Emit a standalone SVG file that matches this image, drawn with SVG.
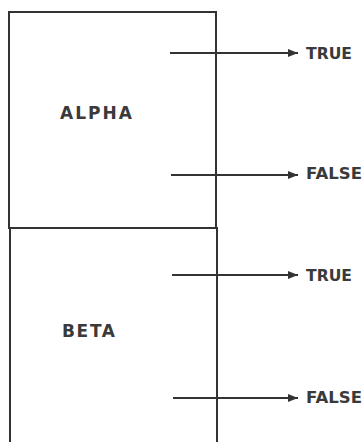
<svg xmlns="http://www.w3.org/2000/svg" width="363" height="442" viewBox="0 0 363 442">
<style>
.box{fill:none;stroke:#333;stroke-width:2}
.edge{stroke:#333;stroke-width:2;fill:none}
text{font-family:"DejaVu Sans","Liberation Sans",Arial,sans-serif;font-weight:bold;fill:#3a3a3a}
.name{font-size:17px}
.out{font-size:15px}
</style>
<defs>
<marker id="ah" viewBox="0 0 10 8" refX="10" refY="4" markerWidth="10" markerHeight="8" markerUnits="userSpaceOnUse" orient="auto">
<path d="M0,0 L10,4 L0,8 Z" fill="#333"/>
</marker>
</defs>
<rect width="363" height="442" fill="#fff"/>
<g id="alpha">
<rect class="box" x="9" y="12" width="207" height="216"/>
<text class="name" x="60" y="119" textLength="72" lengthAdjust="spacing">ALPHA</text>
</g>
<g id="beta">
<path class="box" d="M10,228 V442 M10,228 H217 V442"/>
<text class="name" x="62" y="337" textLength="53" lengthAdjust="spacing">BETA</text>
</g>
<g id="connectors">
<line class="edge" x1="170" y1="53" x2="298" y2="53" marker-end="url(#ah)"/>
<line class="edge" x1="171" y1="175" x2="298" y2="175" marker-end="url(#ah)"/>
<line class="edge" x1="172" y1="275" x2="298" y2="275" marker-end="url(#ah)"/>
<line class="edge" x1="173" y1="398" x2="298" y2="398" marker-end="url(#ah)"/>
</g>
<g id="labels">
<text class="out" x="306" y="59" textLength="46" lengthAdjust="spacingAndGlyphs">TRUE</text>
<text class="out" x="306" y="179" textLength="56" lengthAdjust="spacingAndGlyphs">FALSE</text>
<text class="out" x="306" y="281" textLength="46" lengthAdjust="spacingAndGlyphs">TRUE</text>
<text class="out" x="306" y="403" textLength="56" lengthAdjust="spacingAndGlyphs">FALSE</text>
</g>
</svg>
